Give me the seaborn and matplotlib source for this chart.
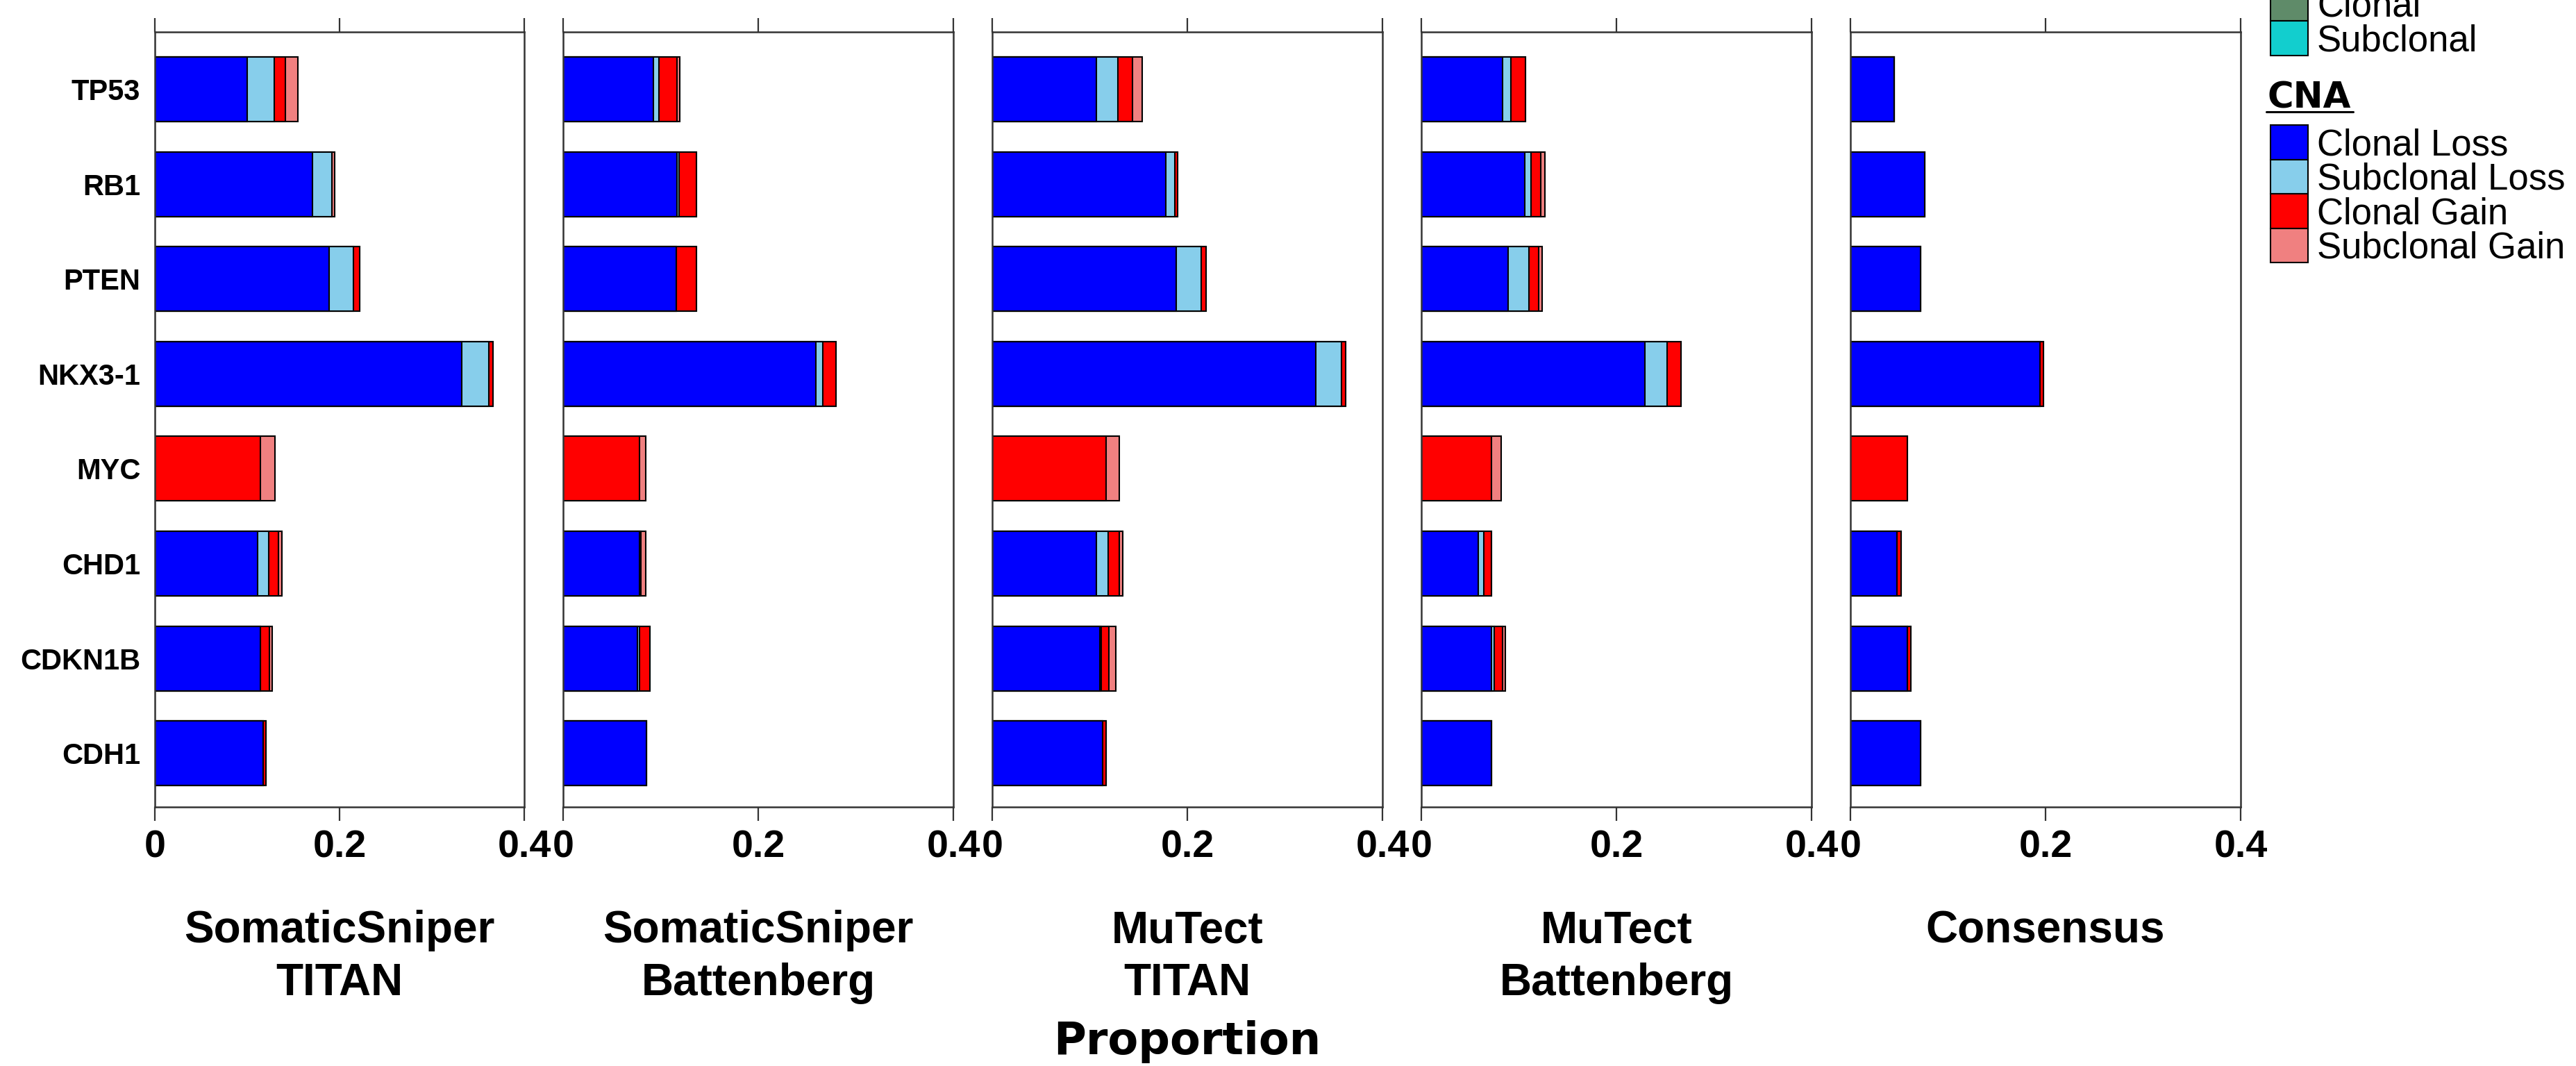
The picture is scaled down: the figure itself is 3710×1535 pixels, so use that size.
import numpy as np
import pandas as pd
import seaborn as sns
import matplotlib.pyplot as plt
from matplotlib.patches import Rectangle
from matplotlib.lines import Line2D

sns.set_style('white')
plt.rcParams['font.family'] = ['Liberation Sans', 'DejaVu Sans']
plt.rcParams.update({'text.color': 'black', 'xtick.color': 'black',
                     'ytick.color': 'black', 'axes.labelcolor': 'black'})

# genes, top to bottom
genes = ['TP53', 'RB1', 'PTEN', 'NKX3-1', 'MYC', 'CHD1', 'CDKN1B', 'CDH1']

panel_titles = [('SomaticSniper', 'TITAN'), ('SomaticSniper', 'Battenberg'),
                ('MuTect', 'TITAN'), ('MuTect', 'Battenberg'), ('Consensus', '')]

# segment widths per panel: clonal loss, subclonal loss, clonal gain, subclonal gain
clonal_loss = [
    [0.100, 0.171, 0.189, 0.332, 0.0, 0.111, 0.114, 0.117],
    [0.0925, 0.117, 0.116, 0.259, 0.0, 0.078, 0.076, 0.0856],
    [0.107, 0.178, 0.1885, 0.332, 0.0, 0.107, 0.110, 0.113],
    [0.083, 0.106, 0.089, 0.229, 0.0, 0.0586, 0.072, 0.072],
    [0.045, 0.076, 0.072, 0.194, 0.0, 0.0474, 0.0584, 0.072],
]
subclonal_loss = [
    [0.029, 0.021, 0.026, 0.030, 0.0, 0.012, 0.0, 0.0],
    [0.006, 0.002, 0.0, 0.007, 0.0, 0.0, 0.002, 0.0],
    [0.022, 0.009, 0.026, 0.026, 0.0, 0.012, 0.002, 0.0],
    [0.009, 0.0065, 0.021, 0.023, 0.0, 0.0053, 0.003, 0.0],
    [0.0, 0.0, 0.0, 0.0, 0.0, 0.0, 0.0, 0.0],
]
clonal_gain = [
    [0.012, 0.0, 0.007, 0.004, 0.114, 0.0105, 0.010, 0.003],
    [0.018, 0.018, 0.021, 0.014, 0.078, 0.002, 0.011, 0.0],
    [0.015, 0.003, 0.0045, 0.004, 0.117, 0.011, 0.0075, 0.004],
    [0.0145, 0.010, 0.010, 0.0145, 0.072, 0.008, 0.008, 0.0],
    [0.0, 0.0, 0.0, 0.004, 0.0586, 0.0044, 0.0035, 0.0],
]
subclonal_gain = [
    [0.014, 0.003, 0.0, 0.0, 0.016, 0.004, 0.003, 0.0],
    [0.003, 0.0, 0.0, 0.0, 0.007, 0.005, 0.0, 0.0],
    [0.010, 0.0, 0.0, 0.0, 0.013, 0.004, 0.007, 0.0],
    [0.0, 0.004, 0.0035, 0.0, 0.010, 0.0, 0.003, 0.0],
    [0.0, 0.0, 0.0, 0.0, 0.0, 0.0, 0.0, 0.0],
]

cna_labels = ['Clonal Loss', 'Subclonal Loss', 'Clonal Gain', 'Subclonal Gain']
cna_colors = ['#0000FF', '#87CEEB', '#FF0000', '#F08080']
snv_labels = ['Clonal', 'Subclonal']
snv_colors = ['#5F8B69', '#12CECE']

W, H = 3710, 1535
fig = plt.figure(figsize=(W / 100, H / 100), dpi=100)

def fx(x):
    return x / W

def fy(y):
    return 1 - y / H

# panel geometry in pixels
lefts = [223, 811, 1429, 2047, 2665]
widths = [532, 562, 562, 562, 562]
top_px, bot_px = 46, 1162

for i in range(5):
    ax = fig.add_axes([fx(lefts[i]), fy(bot_px), widths[i] / W, (bot_px - top_px) / H])
    segs = np.array([clonal_loss[i], subclonal_loss[i], clonal_gain[i], subclonal_gain[i]])
    cum = np.cumsum(segs, axis=0)
    # draw from the longest cumulative down so earlier segments sit on top
    for k in range(3, -1, -1):
        df = pd.DataFrame({'gene': genes, 'value': cum[k]})
        sns.barplot(data=df, x='value', y='gene', order=genes, orient='h',
                    color=cna_colors[k], saturation=1, width=0.68,
                    edgecolor='black', linewidth=1.5, ax=ax)
    ax.set_xlim(0, 0.4)
    ax.set_ylim(7.566, -0.604)
    ax.set_xticks([0, 0.2, 0.4])
    ax.set_xticklabels(['0', '0.2', '0.4'])
    ax.set_xlabel('')
    ax.set_ylabel('')
    ax.tick_params(axis='x', top=True, bottom=True, direction='out', length=14.5,
                   width=1.6, color='#333333', labelcolor='black', labelsize=40, pad=9)
    for lab in ax.get_xticklabels():
        lab.set_fontweight('bold')
    if i == 0:
        ax.tick_params(axis='y', length=0, labelsize=30, pad=15, labelcolor='black')
        for lab in ax.get_yticklabels():
            lab.set_fontweight('bold')
    else:
        ax.set_yticklabels([])
        ax.tick_params(axis='y', length=0)
    for sp in ax.spines.values():
        sp.set_visible(True)
        sp.set_color('#333333')
        sp.set_linewidth(1.8)

    cx = lefts[i] + widths[i] / 2
    fig.text(fx(cx), fy(1357), panel_titles[i][0], ha='center', va='baseline',
             fontsize=46, fontweight='bold')
    if panel_titles[i][1]:
        fig.text(fx(cx), fy(1433), panel_titles[i][1], ha='center', va='baseline',
                 fontsize=46, fontweight='bold')

fig.text(fx(1710), fy(1518), 'Proportion', ha='center', va='baseline',
         fontsize=46, fontweight='bold', family='DejaVu Sans')

# legend, drawn by hand
px0, pw = 3270, 54
def legend_row(top, h, color, label):
    fig.add_artist(Rectangle((fx(px0), fy(top + h)), pw / W, h / H,
                             transform=fig.transFigure, facecolor=color,
                             edgecolor='black', linewidth=1.5))
    fig.text(fx(3337), fy(top + h / 2 + 18.5), label, ha='left', va='baseline',
             fontsize=38)

for j, (lab, col) in enumerate(zip(snv_labels, snv_colors)):
    legend_row(-19.5 + 49.5 * j, 49.5, col, lab)

fig.text(fx(3266), fy(155), 'CNA', ha='left', va='baseline', fontsize=37,
         fontweight='bold', family='DejaVu Sans')
fig.add_artist(Line2D([fx(3264), fx(3389)], [fy(161), fy(161)],
                      transform=fig.transFigure, color='black', linewidth=2.2))

for j, (lab, col) in enumerate(zip(cna_labels, cna_colors)):
    legend_row(180 + 49.5 * j, 49.5, col, lab)

fig.savefig('out.png', dpi=100)
